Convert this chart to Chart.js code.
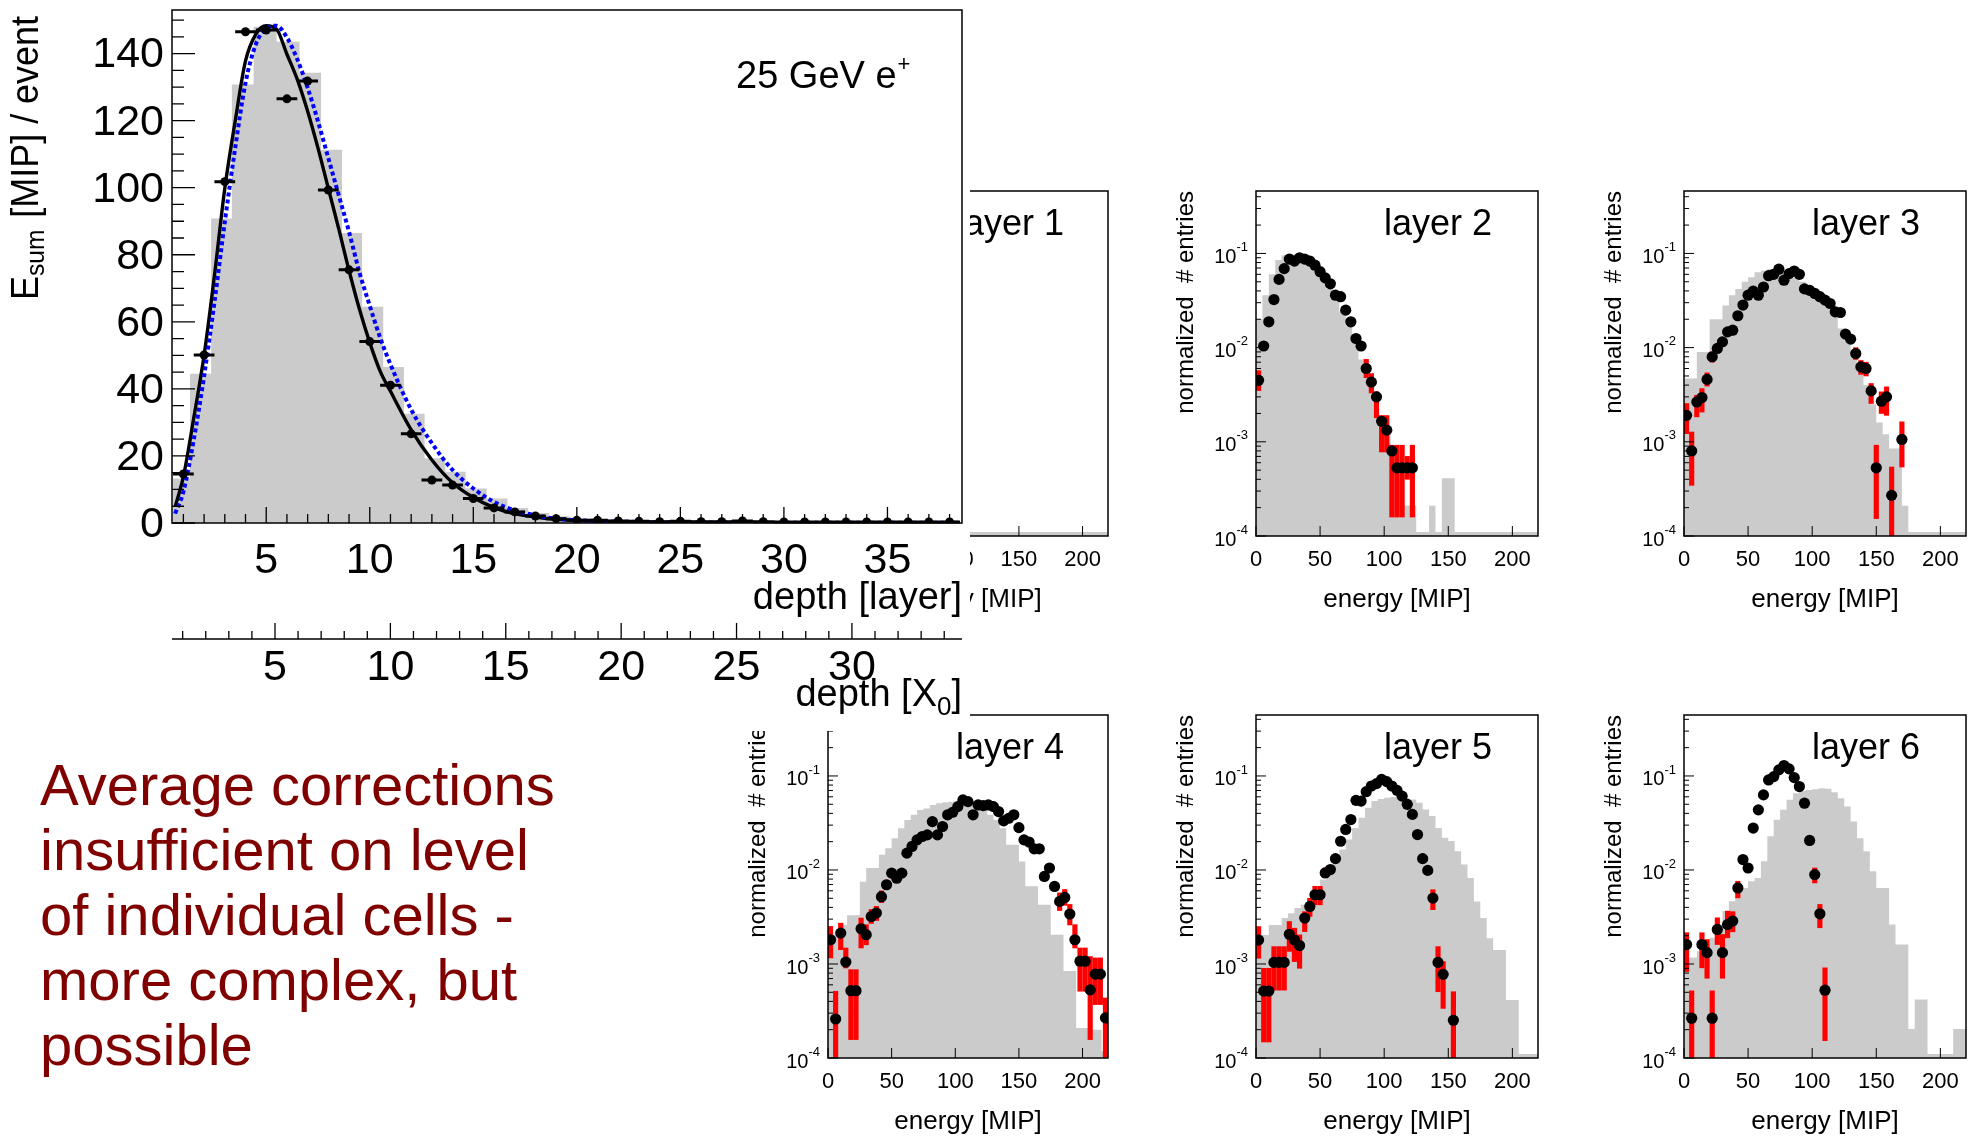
<!DOCTYPE html>
<html>
<head>
<meta charset="utf-8">
<script src="https://cdn.jsdelivr.net/npm/chart.js@4.4.1/dist/chart.umd.min.js"></script>
<style>
  html, body { margin: 0; padding: 0; background: #fff; }
  body { width: 1973px; height: 1139px; overflow: hidden; position: relative; font-family: "Liberation Sans", Arial, Helvetica, sans-serif; }
  .box { position: absolute; }
  #profileBox { left: 0; top: 0; width: 970px; height: 731px; background: #fff; z-index: 2; }
  .note { position: absolute; left: 40px; top: 752px; color: #800000; font-size: 58px; line-height: 65px; z-index: 3; }
</style>
</head>
<body>
<div class="box" id="profileBox"><canvas id="profile"></canvas></div>
<div class="note">Average corrections<br>insufficient on level<br>of individual cells -<br>more complex, but<br>possible</div>
<script>
const FONT = '"Liberation Sans", Arial, Helvetica, sans-serif';

// ---------- longitudinal profile (25 GeV e+) ----------
const depthLayers = [1,2,3,4,5,6,7,8,9,10,11,12,13,14,15,16,17,18,19,20,21,22,23,24,25,26,27,28,29,30,31,32,33,34,35,36,37,38];
const esumData = [14.6,50.1,101.8,146.5,147,126.5,131.8,99.3,75.5,54.1,41.1,26.6,12.8,11.3,7.3,4.5,3.3,2.1,1.3,0.8,0.8,0.6,0.5,0.4,0.5,0.4,0.4,0.6,0.4,0.3,0.3,0.3,0.3,0.3,0.3,0.3,0.3,0.3];
const depthHalfWidth = 0.5;

// simulation histogram: bin edges (in layers) and contents
const simEdges = [0.5,1.32,2.34,3.34,4.39,5.5,6.61,7.65,8.66,9.63,10.65,11.65,12.65,13.65,14.63,15.65,16.65,17.65,18.65,19.65,20.65,21.65,22.65,23.65,24.65,25.65,26.65,27.65,28.65,29.65,30.65,31.65,32.65,33.65,34.65,35.65,36.65,37.65,38.5];
const simEsum = [13.3,44.5,90.8,130.8,148,143.5,134.3,111.3,86.5,64.5,46.5,32.6,19.3,15.3,10.3,7.3,4.5,3.0,2.0,1.3,0.9,0.6,0.45,0.35,0.3,0.25,0.2,0.2,0.15,0.15,0.1,0.1,0.1,0.1,0.1,0.1,0.1,0.1];

// fitted profiles (black: data, blue dotted: simulation)
const fitX = [0.6,1,1.5,2,2.5,3,3.5,4,4.5,5,5.5,6,6.5,7,7.5,8,8.5,9,9.5,10,10.5,11,12,13,14,15,16,17,18,19,21,25,30,38.5];
const fitDataCurve = [4.8,13.8,31.3,50,73.8,99.8,119.8,137.8,145.8,148.3,147.3,139.8,132.3,122.8,111.8,99.8,87.8,75.3,63.8,53.8,45.3,39.3,27.8,18.8,12,7.6,4.6,2.8,1.8,1.1,0.5,0.2,0.1,0.05];
const fitSimCurve = [2.8,9.3,24.8,43.8,65.8,89.8,111.8,131.3,142.8,147.5,148.3,144.8,138.3,129.8,119.8,108.8,97.8,86.8,74.8,64.8,55.3,47.3,33.8,23.8,15.8,10.3,6.3,3.8,2.3,1.3,0.6,0.2,0.1,0.05];

const esumTicks = [0,20,40,60,80,100,120,140];
const layerTicks = [5,10,15,20,25,30,35];
const x0Ticks = [5,10,15,20,25,30];

// ---------- per-layer energy spectra ----------
const simBinWidth = 5;      // MIP
const dataBinWidth = 4;     // MIP
const dataFirstCenter = 2;  // MIP
const energyTicks = [0,50,100,150,200];
const logTicks = [1e-4,1e-3,1e-2,1e-1];
const logTickExp = ['-4','-3','-2','-1'];

const layer1Sim = [null,null,null,null,null,null,null,null,null,null,null,null,null,null,null,null,null,null,null,null,null,null,1.1e-4,1.1e-4,1.1e-4,1.1e-4,1.1e-4,1.1e-4,1.1e-4,1.1e-4,1.1e-4,1.1e-4,1.1e-4,1.1e-4,1.1e-4,1.1e-4,1.1e-4,1.1e-4,1.1e-4,1.1e-4,1.1e-4,1.1e-4,1.1e-4,1.1e-4];
const layer1Data = [];
const layer1Err = [];

const layer2Sim = [2.0e-2,3.6e-2,6.0e-2,8.5e-2,9.5e-2,9.8e-2,9.5e-2,8.8e-2,7.8e-2,6.5e-2,5.3e-2,4.2e-2,3.3e-2,2.4e-2,1.7e-2,1.15e-2,7.5e-3,4.8e-3,3.0e-3,1.9e-3,1.2e-3,7.0e-4,4.5e-4,2.1e-4,2.1e-4,1.1e-4,1.1e-4,2.1e-4,1.1e-4,4.1e-4,4.1e-4,1.1e-4,1.1e-4,1.1e-4,1.1e-4,1.1e-4,1.1e-4,1.1e-4,1.1e-4,1.1e-4,1.1e-4,1.1e-4,1.1e-4,1.1e-4];
const layer2Data = [4.5e-3,1.04e-2,1.88e-2,3.24e-2,5.3e-2,6.9e-2,8.7e-2,8.3e-2,9.0e-2,8.7e-2,8.3e-2,7.5e-2,6.4e-2,5.5e-2,4.76e-2,3.6e-2,3.47e-2,2.5e-2,1.88e-2,1.25e-2,1.04e-2,6.0e-3,4.3e-3,3.0e-3,1.65e-3,1.33e-3,8.0e-4,5.3e-4,5.3e-4,5.3e-4,5.3e-4];
const layer2Err = [[3.5e-3,5.7e-3],null,null,null,null,null,null,null,null,null,null,null,null,null,null,null,null,null,null,null,null,[4.8e-3,7.5e-3],[3.3e-3,5.3e-3],[1.8e-3,3.4e-3],[7.8e-4,1.9e-3],[7.8e-4,1.9e-3],[1.59e-4,9.2e-4],[1.59e-4,9.2e-4],[1.59e-4,9.2e-4],[4.0e-4,7.0e-4],[1.59e-4,9.2e-4]];

const layer3Sim = [4.7e-3,4.7e-3,9.0e-3,9.0e-3,2.0e-2,2.0e-2,2.8e-2,3.6e-2,4.2e-2,5.0e-2,5.6e-2,6.3e-2,6.6e-2,6.8e-2,6.8e-2,6.6e-2,6.2e-2,5.6e-2,5.0e-2,4.4e-2,3.8e-2,3.3e-2,2.8e-2,2.2e-2,1.6e-2,1.2e-2,9.0e-3,6.0e-3,4.0e-3,2.5e-3,1.6e-3,1.2e-3,8.5e-4,8.5e-4,2.1e-4,1.1e-4,1.1e-4,1.1e-4,1.1e-4,1.1e-4,1.1e-4,1.1e-4,1.1e-4,1.1e-4];
const layer3Data = [1.91e-3,8.0e-4,2.65e-3,2.95e-3,4.6e-3,8.0e-3,9.8e-3,1.15e-2,1.47e-2,1.53e-2,2.18e-2,2.83e-2,3.6e-2,3.98e-2,3.6e-2,4.4e-2,5.8e-2,6.0e-2,6.8e-2,5.2e-2,6.1e-2,6.5e-2,6.0e-2,4.2e-2,4.05e-2,3.76e-2,3.47e-2,3.19e-2,2.94e-2,2.4e-2,2.36e-2,1.39e-2,1.23e-2,8.65e-3,6.25e-3,6.0e-3,3.47e-3,5.3e-4,2.7e-3,3.0e-3,2.7e-4,null,1.06e-3];
const layer3Err = [[1.22e-3,2.55e-3],[3.45e-4,1.27e-3],[1.84e-3,3.12e-3],[2.07e-3,3.67e-3],[3.9e-3,5.4e-3],[7.0e-3,9.0e-3],null,null,null,null,null,null,null,null,null,null,null,null,null,null,null,null,null,null,null,null,null,null,null,null,null,null,null,[7.5e-3,1.0e-2],[5.2e-3,7.3e-3],[5.0e-3,7.0e-3],[2.55e-3,4.16e-3],[1.53e-4,9.2e-4],[2.0e-3,3.39e-3],[1.91e-3,3.83e-3],[9e-5,5.4e-4],null,[5.4e-4,1.63e-3]];

const layer4Sim = [2.05e-3,2.05e-3,2.6e-3,3.3e-3,3.3e-3,7.5e-3,1.05e-2,1.05e-2,1.45e-2,1.7e-2,2.18e-2,2.78e-2,3.41e-2,3.86e-2,4.35e-2,4.5e-2,4.92e-2,5.13e-2,5.25e-2,5.33e-2,5.33e-2,5.25e-2,5.0e-2,4.72e-2,4.35e-2,3.86e-2,3.41e-2,2.78e-2,1.85e-2,1.85e-2,1.23e-2,6.7e-3,6.7e-3,4.26e-3,4.26e-3,2.05e-3,2.05e-3,8.4e-4,8.4e-4,2.09e-4,2.09e-4,2.0e-4,2.0e-4,1.18e-4];
const layer4Data = [1.81e-3,2.6e-4,2.13e-3,1.05e-3,5.2e-4,5.2e-4,2.37e-3,2.05e-3,3.2e-3,3.48e-3,5.2e-3,6.96e-3,9.25e-3,8.18e-3,9.25e-3,1.51e-2,1.78e-2,2.09e-2,2.27e-2,2.36e-2,3.27e-2,2.36e-2,2.9e-2,3.86e-2,4.11e-2,4.72e-2,5.56e-2,5.33e-2,3.86e-2,4.92e-2,4.84e-2,4.92e-2,4.72e-2,4.18e-2,3.33e-2,3.55e-2,3.86e-2,2.82e-2,2.09e-2,1.98e-2,1.68e-2,1.68e-2,8.53e-3,1.05e-2,6.68e-3,4.63e-3,5.1e-3,3.4e-3,1.81e-3,1.07e-3,1.07e-3,5.3e-4,7.8e-4,7.8e-4,2.67e-4];
const layer4Err = [[1.16e-3,2.51e-3],[9e-5,5.13e-4],[1.42e-3,2.72e-3],[9.07e-4,1.48e-3],[1.57e-4,8.7e-4],[1.57e-4,8.7e-4],[1.48e-3,3.08e-3],[1.6e-3,2.62e-3],[2.7e-3,3.8e-3],[2.9e-3,4.1e-3],[4.5e-3,6.0e-3],[6.2e-3,7.8e-3],[8.3e-3,1.03e-2],null,null,null,null,null,null,null,null,null,null,null,null,null,null,null,null,null,null,null,null,null,null,null,null,null,null,null,null,null,null,null,null,[3.7e-3,5.7e-3],[4.2e-3,6.2e-3],[2.6e-3,4.3e-3],[1.48e-3,2.62e-3],[5.13e-4,1.48e-3],[5.13e-4,1.48e-3],[1.57e-4,1.2e-3],[3.7e-4,1.16e-3],[3.7e-4,1.16e-3],[9e-5,4.35e-4]];

const layer5Sim = [2.04e-3,2.04e-3,2.6e-3,2.6e-3,3.08e-3,3.47e-3,3.93e-3,4.26e-3,5.0e-3,6.17e-3,7.9e-3,1.01e-2,1.29e-2,1.65e-2,2.11e-2,2.8e-2,3.59e-2,4.59e-2,5.4e-2,5.7e-2,5.86e-2,5.96e-2,5.96e-2,5.86e-2,5.63e-2,5.19e-2,4.4e-2,3.74e-2,2.8e-2,2.2e-2,2.03e-2,1.58e-2,1.14e-2,8.2e-3,4.63e-3,3.08e-3,1.88e-3,1.41e-3,1.41e-3,4.13e-4,4.13e-4,1.1e-4,1.1e-4,1.1e-4];
const layer5Data = [1.8e-3,5.15e-4,5.15e-4,1.04e-3,1.04e-3,1.04e-3,2.07e-3,1.8e-3,1.57e-3,3.08e-3,4.09e-3,5.45e-3,5.45e-3,9.3e-3,1.01e-2,1.32e-2,2.02e-2,2.7e-2,3.44e-2,5.5e-2,5.41e-2,6.8e-2,7.82e-2,8.28e-2,9.2e-2,8.7e-2,7.82e-2,7.03e-2,6.1e-2,4.99e-2,3.9e-2,2.38e-2,1.32e-2,9.9e-3,5.02e-3,1.04e-3,7.76e-4,null,2.52e-4];
const layer5Err = [[1.15e-3,2.5e-3],[1.48e-4,9.0e-4],[1.48e-4,9.0e-4],[5.27e-4,1.53e-3],[5.27e-4,1.53e-3],[5.27e-4,1.53e-3],[1.36e-3,2.83e-3],[1.06e-3,2.4e-3],[9.0e-4,2.04e-3],[2.21e-3,3.6e-3],[3.2e-3,5.0e-3],[4.26e-3,6.7e-3],[4.26e-3,6.7e-3],[8.3e-3,1.05e-2],null,null,null,null,null,null,null,null,null,null,null,null,null,null,null,null,null,null,null,null,[3.78e-3,6.17e-3],[5.07e-4,1.53e-3],[3.37e-4,1.06e-3],null,[9e-5,5.07e-4]];

const layer6Sim = [1.17e-3,1.17e-3,1.37e-3,1.61e-3,1.9e-3,2.63e-3,3.65e-3,4.66e-3,5.94e-3,6.44e-3,7.59e-3,8.2e-3,1.24e-2,2.28e-2,3.42e-2,4.36e-2,5.57e-2,6.55e-2,6.9e-2,7.11e-2,7.2e-2,7.4e-2,7.3e-2,6.7e-2,5.8e-2,4.73e-2,3.28e-2,2.18e-2,1.58e-2,9.7e-3,6.44e-3,6.44e-3,2.63e-3,1.61e-3,1.61e-3,2.03e-4,4.2e-4,4.2e-4,1.1e-4,1.1e-4,1.1e-4,1.1e-4,2.03e-4,2.03e-4];
const layer6Data = [1.61e-3,2.65e-4,null,1.61e-3,1.32e-3,2.65e-4,2.33e-3,1.32e-3,2.63e-3,2.86e-3,6.44e-3,1.29e-2,1.05e-2,2.79e-2,4.36e-2,6.29e-2,9.07e-2,9.84e-2,0.116,0.129,0.119,9.6e-2,7.71e-2,5.13e-2,2.06e-2,8.93e-3,3.42e-3,5.26e-4];
const layer6Err = [[8.3e-4,2.15e-3],[9e-5,5.18e-4],null,[9.1e-4,2.15e-3],[7.05e-4,1.82e-3],[9e-5,5.18e-4],[1.61e-3,3.1e-3],[7.05e-4,2.06e-3],[1.9e-3,3.65e-3],[2.2e-3,3.6e-3],[5.05e-3,7.59e-3],null,null,null,null,null,null,null,null,null,null,null,null,null,null,[7.28e-3,1.05e-2],[2.43e-3,4.3e-3],[1.53e-4,9.1e-4]];

// panel placement on the page (plot frame in px)
const panelLayout = [
  { name: 'layer 1', left: 828,  top: 191, w: 280, h: 345, yMax: 0.46,  sim: layer1Sim, data: layer1Data, err: layer1Err },
  { name: 'layer 2', left: 1256, top: 191, w: 282, h: 345, yMax: 0.46,  sim: layer2Sim, data: layer2Data, err: layer2Err },
  { name: 'layer 3', left: 1684, top: 191, w: 282, h: 345, yMax: 0.46,  sim: layer3Sim, data: layer3Data, err: layer3Err },
  { name: 'layer 4', left: 828,  top: 715, w: 280, h: 343, yMax: 0.445, sim: layer4Sim, data: layer4Data, err: layer4Err },
  { name: 'layer 5', left: 1256, top: 715, w: 282, h: 343, yMax: 0.445, sim: layer5Sim, data: layer5Data, err: layer5Err },
  { name: 'layer 6', left: 1684, top: 715, w: 282, h: 343, yMax: 0.445, sim: layer6Sim, data: layer6Data, err: layer6Err }
];
const pad = { left: 110, top: 10, right: 6, bottom: 80 };

function line(ctx, x1, y1, x2, y2) { ctx.moveTo(x1, y1); ctx.lineTo(x2, y2); }

// ---------- profile axes, ticks, texts ----------
const profileAxes = {
  id: 'profileAxes',
  afterDatasetsDraw(chart) {
    const { ctx, scales: { x, y } } = chart;
    ctx.save();
    ctx.strokeStyle = '#000';
    ctx.lineWidth = 3;
    ctx.beginPath();
    depthLayers.forEach((d, i) => {
      const py = y.getPixelForValue(esumData[i]);
      line(ctx, x.getPixelForValue(d - depthHalfWidth), py, x.getPixelForValue(d + depthHalfWidth), py);
    });
    ctx.stroke();
    ctx.restore();
  },
  afterDraw(chart) {
    const { ctx, chartArea: a, scales: { x, y, x0 } } = chart;
    ctx.save();
    ctx.strokeStyle = '#000';
    ctx.fillStyle = '#000';
    ctx.lineWidth = 1.5;
    ctx.strokeRect(a.left, a.top, a.right - a.left, a.bottom - a.top);

    ctx.lineWidth = 1.3;
    ctx.beginPath();
    for (let v = 0; v <= y.max; v += 5) {
      const py = y.getPixelForValue(v);
      line(ctx, a.left, py, a.left + (v % 20 === 0 ? 23 : 12), py);
    }
    for (let v = 1; v <= 38; v++) {
      const px = x.getPixelForValue(v);
      line(ctx, px, a.bottom, px, a.bottom - (v % 5 === 0 ? 16 : 9));
    }
    // second axis in radiation lengths
    const axY = a.bottom + 116;
    line(ctx, a.left, axY, a.right, axY);
    for (let v = 1; v <= 34; v++) {
      const px = x0.getPixelForValue(v);
      line(ctx, px, axY, px, axY - (v % 5 === 0 ? 16 : 8));
    }
    ctx.stroke();

    ctx.font = '43px ' + FONT;
    ctx.textAlign = 'right';
    ctx.textBaseline = 'middle';
    esumTicks.forEach(v => ctx.fillText(String(v), a.left - 8, y.getPixelForValue(v) + 2));
    ctx.textAlign = 'center';
    layerTicks.forEach(v => ctx.fillText(String(v), x.getPixelForValue(v), a.bottom + 38));
    x0Ticks.forEach(v => ctx.fillText(String(v), x0.getPixelForValue(v), axY + 29));

    // axis titles
    ctx.font = '38px ' + FONT;
    ctx.textAlign = 'right';
    ctx.fillText('depth [layer]', a.right, a.bottom + 76);
    const t0 = axY + 57;
    ctx.fillText(']', a.right, t0);
    const wBr = ctx.measureText(']').width;
    ctx.font = '26px ' + FONT;
    ctx.fillText('0', a.right - wBr, t0 + 12);
    const w0 = ctx.measureText('0').width;
    ctx.font = '38px ' + FONT;
    ctx.fillText('depth [X', a.right - wBr - w0, t0);

    // y title, rotated and squeezed to the length used in the figure
    ctx.save();
    ctx.font = '38px ' + FONT;
    const wE = ctx.measureText('E').width;
    const wRest = ctx.measureText(' [MIP] / event').width;
    ctx.font = '26px ' + FONT;
    const wSub = ctx.measureText('sum').width + 2;
    const total = wE + wSub + wRest;
    const squeeze = Math.min(1, 284 / total);
    ctx.translate(28, 300);
    ctx.rotate(-Math.PI / 2);
    ctx.scale(squeeze, 1);
    ctx.textAlign = 'left';
    ctx.font = '38px ' + FONT;
    ctx.fillText('E', 0, 0);
    ctx.font = '26px ' + FONT;
    ctx.fillText('sum', wE, 9);
    ctx.font = '38px ' + FONT;
    ctx.fillText(' [MIP] / event', wE + wSub, 0);
    ctx.restore();

    // beam label
    ctx.textAlign = 'left';
    ctx.textBaseline = 'alphabetic';
    ctx.font = '38px ' + FONT;
    ctx.fillText('25 GeV e', 736, 88);
    const wb = ctx.measureText('25 GeV e').width;
    ctx.font = '22px ' + FONT;
    ctx.fillText('+', 736 + wb + 1, 71);
    ctx.restore();
  }
};

new Chart(document.getElementById('profile'), {
  type: 'line',
  data: {
    datasets: [
      {
        label: 'data',
        data: depthLayers.map((d, i) => ({ x: d, y: esumData[i] })),
        showLine: false,
        pointRadius: 4.5,
        pointBackgroundColor: '#000',
        pointBorderWidth: 0,
        order: 1
      },
      {
        label: 'simulation fit',
        data: fitX.map((v, i) => ({ x: v, y: fitSimCurve[i] })),
        borderColor: '#0000ff',
        borderWidth: 4,
        borderDash: [4, 3],
        pointRadius: 0,
        cubicInterpolationMode: 'monotone',
        order: 2
      },
      {
        label: 'data fit',
        data: fitX.map((v, i) => ({ x: v, y: fitDataCurve[i] })),
        borderColor: '#000',
        borderWidth: 3.4,
        pointRadius: 0,
        cubicInterpolationMode: 'monotone',
        order: 3
      },
      {
        label: 'simulation',
        data: simEdges.map((e, i) => ({ x: e, y: i < simEsum.length ? simEsum[i] : simEsum[simEsum.length - 1] })),
        stepped: true,
        fill: 'start',
        backgroundColor: '#cbcbcb',
        borderColor: 'rgba(0,0,0,0)',
        borderWidth: 0,
        pointRadius: 0,
        order: 4
      }
    ]
  },
  options: {
    responsive: true,
    maintainAspectRatio: false,
    animation: false,
    layout: { padding: { left: 172, top: 10, right: 8, bottom: 208 } },
    plugins: { legend: { display: false }, tooltip: { enabled: false } },
    scales: {
      x: { type: 'linear', min: 0.45, max: 38.6, display: false },
      y: { type: 'linear', min: 0, max: 153, display: false },
      x0: { type: 'linear', axis: 'x', min: 0.537, max: 34.77, display: false }
    }
  },
  plugins: [profileAxes]
});

// ---------- layer panels ----------
const panelAxes = {
  id: 'panelAxes',
  afterDraw(chart, args, opts) {
    const { ctx, chartArea: a, scales: { x, y } } = chart;
    ctx.save();
    ctx.strokeStyle = '#000';
    ctx.fillStyle = '#000';
    ctx.lineWidth = 1.5;
    ctx.strokeRect(a.left, a.top, a.right - a.left, a.bottom - a.top);
    ctx.lineWidth = 1;
    ctx.beginPath();
    for (let e = -4; e <= 0; e++) {
      for (let m = 1; m < 10; m++) {
        const v = m * Math.pow(10, e);
        if (v > y.max) break;
        const py = y.getPixelForValue(v);
        line(ctx, a.left, py, a.left + (m === 1 ? 10 : 5), py);
      }
    }
    energyTicks.forEach(v => {
      const px = x.getPixelForValue(v);
      line(ctx, px, a.bottom, px, a.bottom - 10);
    });
    ctx.stroke();

    ctx.textBaseline = 'middle';
    logTicks.forEach((v, i) => {
      const py = y.getPixelForValue(v);
      ctx.textAlign = 'right';
      ctx.font = '13px ' + FONT;
      const supW = ctx.measureText(logTickExp[i]).width;
      ctx.fillText(logTickExp[i], a.left - 8, py - 6);
      ctx.font = '20px ' + FONT;
      ctx.fillText('10', a.left - 8 - supW, py + 4);
    });
    ctx.textAlign = 'center';
    ctx.font = '22px ' + FONT;
    energyTicks.forEach(v => ctx.fillText(String(v), x.getPixelForValue(v), a.bottom + 24));
    ctx.font = '26px ' + FONT;
    ctx.fillText('energy [MIP]', (a.left + a.right) / 2, a.bottom + 64);

    ctx.save();
    ctx.font = '24px ' + FONT;
    ctx.translate(a.left - 70, a.top);
    ctx.rotate(-Math.PI / 2);
    ctx.textAlign = 'right';
    ctx.fillText('normalized  # entries', 0, 0);
    ctx.restore();

    ctx.textAlign = 'left';
    ctx.font = '36px ' + FONT;
    ctx.fillText(opts.name, a.left + 128, a.top + 34);
    ctx.restore();
  }
};

panelLayout.forEach((p) => {
  const box = document.createElement('div');
  box.className = 'box';
  box.style.left = (p.left - pad.left) + 'px';
  box.style.top = (p.top - pad.top) + 'px';
  box.style.width = (pad.left + p.w + pad.right) + 'px';
  box.style.height = (pad.top + p.h + pad.bottom) + 'px';
  box.style.zIndex = 1;
  const cv = document.createElement('canvas');
  box.appendChild(cv);
  document.body.appendChild(box);

  const simPts = p.sim.map((v, i) => ({ x: i * simBinWidth, y: v }));
  simPts.push({ x: p.sim.length * simBinWidth, y: p.sim[p.sim.length - 1] });
  const dataPts = p.data.map((v, k) => v == null ? null : ({ x: dataFirstCenter + k * dataBinWidth, y: v })).filter(Boolean);
  const errBars = p.err.map((e, k) => e ? ({ x: dataFirstCenter + k * dataBinWidth, y: [e[0], e[1]] }) : null).filter(Boolean);

  new Chart(cv, {
    type: 'line',
    data: {
      datasets: [
        {
          label: 'data',
          data: dataPts,
          showLine: false,
          pointRadius: 5.6,
          pointBackgroundColor: '#000',
          pointBorderWidth: 0,
          order: 1
        },
        {
          type: 'bar',
          label: 'uncertainty',
          data: errBars,
          backgroundColor: '#ff0000',
          borderWidth: 0,
          barThickness: 4.5,
          order: 2
        },
        {
          label: 'simulation',
          data: simPts,
          stepped: true,
          fill: 'start',
          backgroundColor: '#cbcbcb',
          borderColor: 'rgba(0,0,0,0)',
          borderWidth: 0,
          pointRadius: 0,
          order: 3
        }
      ]
    },
    options: {
      responsive: true,
      maintainAspectRatio: false,
      animation: false,
      layout: { padding: pad },
      plugins: { legend: { display: false }, tooltip: { enabled: false }, panelAxes: { name: p.name } },
      scales: {
        x: { type: 'linear', min: 0, max: 220, offset: false, display: false },
        y: { type: 'logarithmic', min: 1e-4, max: p.yMax, display: false }
      }
    },
    plugins: [panelAxes]
  });
});
</script>
</body>
</html>
